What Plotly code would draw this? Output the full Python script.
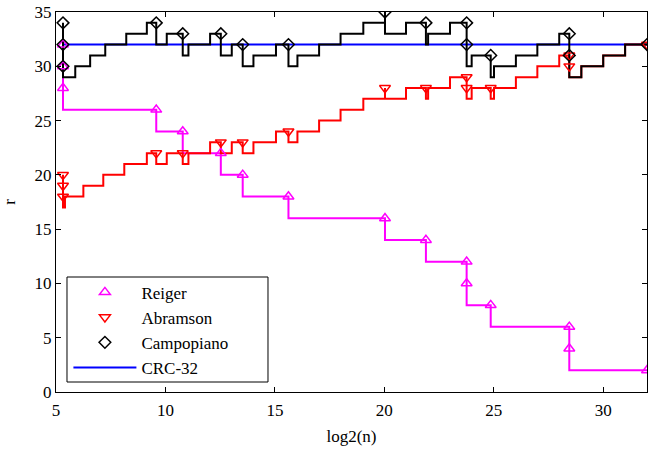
import plotly.graph_objects as go

# Shared code lengths (log2 n) for the construction points
pts_x = [5.32, 5.32, 5.32, 9.58, 10.79, 12.53, 13.53, 15.62, 20.03, 21.9,
         23.76, 23.76, 24.86, 28.45, 28.45, 32]

reiger_y = [32, 30, 28, 26, 24, 22, 20, 18, 16, 14, 12, 10, 8, 6, 4, 2]
abramson_y = [20, 19, 18, 22, 22, 23, 23, 24, 28, 28, 29, 28, 28, 31, 30, 32]
campopiano_y = [34, 32, 30, 34, 33, 33, 32, 32, 35, 34, 34, 32, 31, 33, 31, 32]

# Step curves (level changes at given x)
abr_step_x = [5.32, 5.32, 5.41, 6.25, 7.16, 8.12, 9.15, 9.58, 10.06, 10.79, 11.05,
              12.04, 12.53, 13.03, 13.53, 14.02, 15.05, 15.62, 16.03, 17.02, 18.0,
              19.04, 20.03, 20.03, 20.99, 21.9, 22.0, 23.0, 23.76, 23.99, 24.86,
              25.01, 26.01, 26.99, 27.99, 28.45, 29.0, 30.0, 31.0, 32]
abr_step_y = [20, 17, 18, 19, 20, 21, 22, 21, 22, 21, 22,
              23, 22, 23, 22, 23, 24, 23, 24, 25, 26,
              27, 28, 27, 28, 27, 28, 29, 27, 28, 27,
              28, 29, 30, 31, 29, 30, 31, 32, 32]

cam_step_x = [5.32, 5.32, 5.88, 6.56, 7.25, 8.21, 9.15, 9.58, 10.06, 10.79, 11.05,
              12.04, 12.53, 13.03, 13.53, 14.02, 15.05, 15.62, 16.03, 17.02, 18.0,
              19.04, 20.03, 20.03, 20.99, 21.9, 22.0, 23.0, 23.76, 23.99, 24.86,
              25.01, 26.01, 26.99, 27.99, 28.45, 29.0, 30.0, 31.0, 32]
cam_step_y = [34, 29, 30, 31, 32, 33, 34, 32, 33, 31, 32,
              33, 31, 32, 30, 31, 32, 30, 31, 32, 33,
              34, 35, 33, 34, 32, 33, 34, 30, 31, 29,
              30, 31, 32, 33, 29, 30, 31, 32, 32]

crc_x = [5.32, 32]
crc_y = [32, 32]

x_ticks = [5, 10, 15, 20, 25, 30]
y_ticks = [0, 5, 10, 15, 20, 25, 30, 35]

MAG = "#FF00FF"
RED = "#FF0000"
BLK = "#000000"
BLU = "#0000FF"
FONT = "Liberation Serif"

fig = go.Figure()

# lines
fig.add_trace(go.Scatter(x=crc_x, y=crc_y, mode="lines", name="CRC-32",
                         line=dict(color=BLU, width=2), legendrank=4))
fig.add_trace(go.Scatter(x=pts_x, y=reiger_y, mode="lines", showlegend=False,
                         line=dict(color=MAG, width=2, shape="vh")))
fig.add_trace(go.Scatter(x=abr_step_x, y=abr_step_y, mode="lines", showlegend=False,
                         line=dict(color=RED, width=2, shape="hv")))
fig.add_trace(go.Scatter(x=cam_step_x, y=cam_step_y, mode="lines", showlegend=False,
                         line=dict(color=BLK, width=2, shape="hv")))
# markers
fig.add_trace(go.Scatter(x=pts_x, y=reiger_y, mode="markers", name="Reiger", legendrank=1,
                         marker=dict(symbol="triangle-up-open", size=9.5, color=MAG,
                                     line=dict(width=1.5, color=MAG))))
fig.add_trace(go.Scatter(x=pts_x, y=abramson_y, mode="markers", name="Abramson", legendrank=2,
                         marker=dict(symbol="triangle-down-open", size=9.5, color=RED,
                                     line=dict(width=1.5, color=RED))))
fig.add_trace(go.Scatter(x=pts_x, y=campopiano_y, mode="markers", name="Campopiano", legendrank=3,
                         marker=dict(symbol="diamond-open", size=9, color=BLK,
                                     line=dict(width=1.5, color=BLK))))

axis_common = dict(showline=True, linecolor="black", linewidth=1, mirror="ticks",
                   ticks="inside", ticklen=5, tickcolor="black", showgrid=False,
                   zeroline=False, automargin=False,
                   tickfont=dict(family=FONT, size=17, color="black"))

fig.update_layout(
    width=650, height=449,
    margin=dict(l=56, r=3, t=12, b=57),
    paper_bgcolor="white", plot_bgcolor="white",
    font=dict(family=FONT, size=17, color="black"),
    xaxis=dict(range=[5, 32], tickvals=x_ticks, ticklabelstandoff=3,
               title=dict(text="log2(n)", font=dict(family=FONT, size=17), standoff=10),
               **axis_common),
    yaxis=dict(range=[0, 35], tickvals=y_ticks,
               title=dict(text="r", font=dict(family=FONT, size=17), standoff=18),
               **axis_common),
    legend=dict(x=0.021, y=0.309, xanchor="left", yanchor="top",
                bgcolor="rgba(0,0,0,0)", borderwidth=0,
                font=dict(family=FONT, size=17, color="black"),
                itemwidth=63, traceorder="normal", tracegroupgap=0),
    shapes=[dict(type="rect", xref="paper", yref="paper",
                 x0=0.0186, x1=0.3587, y0=0.0263, y1=0.3026,
                 line=dict(color="black", width=1), fillcolor="white", layer="above")],
)

fig.write_html("out.html", config={"displayModeBar": False},
               post_script="document.body.style.margin='0';")
